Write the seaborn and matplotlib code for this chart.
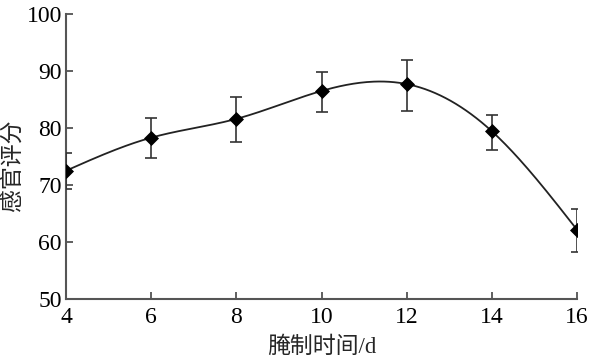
import numpy as np
import pandas as pd
import matplotlib
matplotlib.use("Agg")
import matplotlib.pyplot as plt
import seaborn as sns

days = [4, 6, 8, 10, 12, 14, 16]
score = [72.5, 78.3, 81.6, 86.5, 87.7, 79.4, 62.1]
err_up = [3.1, 3.4, 3.8, 3.3, 4.3, 2.8, 3.7]
err_down = [3.2, 3.6, 4.0, 3.7, 4.7, 3.3, 3.8]

sns.set_style("ticks")
plt.rcParams["font.family"] = ["Liberation Serif", "Noto Sans CJK SC"]
plt.rcParams["axes.unicode_minus"] = False


def natural_spline(x, y, n=300):
    # natural cubic spline, only for drawing the smooth curve
    x = np.asarray(x, float)
    y = np.asarray(y, float)
    k = len(x)
    h = np.diff(x)
    A = np.zeros((k, k))
    b = np.zeros(k)
    A[0, 0] = A[-1, -1] = 1
    for i in range(1, k - 1):
        A[i, i - 1] = h[i - 1]
        A[i, i] = 2 * (h[i - 1] + h[i])
        A[i, i + 1] = h[i]
        b[i] = 3 * ((y[i + 1] - y[i]) / h[i] - (y[i] - y[i - 1]) / h[i - 1])
    c = np.linalg.solve(A, b)
    xs = np.linspace(x[0], x[-1], n)
    idx = np.clip(np.searchsorted(x, xs) - 1, 0, k - 2)
    dx = xs - x[idx]
    hi = h[idx]
    bb = (y[idx + 1] - y[idx]) / hi - hi * (2 * c[idx] + c[idx + 1]) / 3
    dd = (c[idx + 1] - c[idx]) / (3 * hi)
    ys = y[idx] + bb * dx + c[idx] * dx ** 2 + dd * dx ** 3
    return xs, ys


xs, ys = natural_spline(days, score)
curve = pd.DataFrame({"day": xs, "score": ys})

fig = plt.figure(figsize=(5.89, 3.64), dpi=100)
ax = fig.add_axes([0.112, 0.1786, 0.868, 0.783])

sns.lineplot(data=curve, x="day", y="score", color="#222222", linewidth=1.3, ax=ax)
ax.errorbar(days, score, yerr=[err_down, err_up], fmt="none", ecolor="#333333",
            elinewidth=1.2, capsize=4, capthick=1.2, zorder=3)
sns.scatterplot(x=days, y=score, marker="D", s=50, color="black", edgecolor="black",
                zorder=4, ax=ax)

ax.set_xlim(4, 16)
ax.set_ylim(50, 100)
ax.set_xticks([4, 6, 8, 10, 12, 14, 16])
ax.set_yticks([50, 60, 70, 80, 90, 100])
ax.tick_params(direction="in", length=5, width=1.2, colors="#444444",
               labelcolor="black", labelsize=17)
ax.tick_params(axis="x", pad=6)
ax.tick_params(axis="y", pad=3)
for s in ["left", "bottom"]:
    ax.spines[s].set_linewidth(1.5)
    ax.spines[s].set_color("#555555")
sns.despine(ax=ax)

ax.set_xlabel("腌制时间/d", fontsize=16.5, labelpad=6)
ax.set_ylabel("感官评分", fontsize=16.5)
ax.yaxis.set_label_coords(-0.082, 0.47)

fig.savefig("out.png", dpi=100)
